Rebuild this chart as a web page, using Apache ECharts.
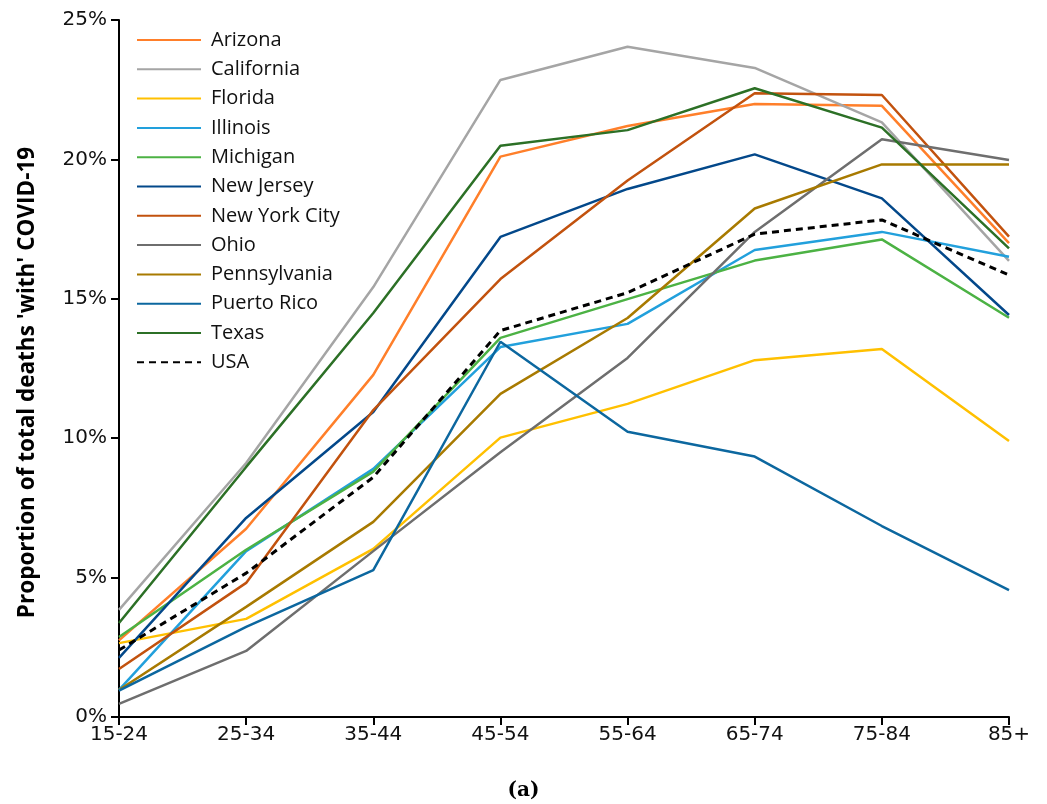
<!DOCTYPE html>
<html>
<head>
<meta charset="utf-8">
<script src="https://cdn.jsdelivr.net/npm/echarts@6/dist/echarts.min.js"></script>
<style>
  html, body { margin: 0; padding: 0; background: #fff; }
  #chart { width: 1047px; height: 804px; }
</style>
</head>
<body>
<div id="chart"></div>
<script>
// Age groups on the horizontal axis
const ageGroups = ['15-24', '25-34', '35-44', '45-54', '55-64', '65-74', '75-84', '85+'];

// Share of all deaths that were 'with' COVID-19, in percent, per age group
const arizona      = [2.75, 6.75, 12.27, 20.10, 21.20, 21.99, 21.92, 17.00];
const california   = [3.84, 9.11, 15.42, 22.85, 24.04, 23.28, 21.33, 16.36];
const florida      = [2.65, 3.52, 6.03, 10.02, 11.23, 12.80, 13.20, 9.90];
const illinois     = [0.97, 5.95, 8.90, 13.27, 14.10, 16.75, 17.40, 16.51];
const michigan     = [2.87, 6.00, 8.80, 13.60, 14.99, 16.37, 17.13, 14.32];
const newJersey    = [2.12, 7.14, 10.94, 17.22, 18.94, 20.18, 18.60, 14.42];
const newYorkCity  = [1.72, 4.81, 11.01, 15.71, 19.24, 22.37, 22.31, 17.23];
const ohio         = [0.47, 2.37, 5.95, 9.50, 12.88, 17.40, 20.72, 19.98];
const pennsylvania = [0.97, 3.95, 7.00, 11.59, 14.31, 18.24, 19.82, 19.82];
const puertoRico   = [0.95, 3.23, 5.27, 13.46, 10.23, 9.34, 6.85, 4.55];
const texas        = [3.37, 8.97, 14.49, 20.49, 21.05, 22.55, 21.14, 16.81];
const usa          = [2.40, 5.16, 8.60, 13.86, 15.22, 17.32, 17.83, 15.85];

// Y-axis range in percent
const yMin = 0, yMax = 25, yStep = 5;

const seriesDefs = [
  { name: 'Arizona',       data: arizona,      color: '#FF7F2A' },
  { name: 'California',    data: california,   color: '#A5A5A5' },
  { name: 'Florida',       data: florida,      color: '#FFC000' },
  { name: 'Illinois',      data: illinois,     color: '#22A0DC' },
  { name: 'Michigan',      data: michigan,     color: '#4CB244' },
  { name: 'New Jersey',    data: newJersey,    color: '#03488A' },
  { name: 'New York City', data: newYorkCity,  color: '#C2520E' },
  { name: 'Ohio',          data: ohio,         color: '#6E6E6E' },
  { name: 'Pennsylvania',  data: pennsylvania, color: '#A87A00' },
  { name: 'Puerto Rico',   data: puertoRico,   color: '#0C679F' },
  { name: 'Texas',         data: texas,        color: '#2C7026' },
  { name: 'USA',           data: usa,          color: '#000000', dashed: true }
];

const textFont = '"Open Sans", "Noto Sans", sans-serif';
const tickFont = '"DejaVu Sans", Verdana, sans-serif';

const chart = echarts.init(document.getElementById('chart'), null, { renderer: 'canvas' });

chart.setOption({
  animation: false,
  backgroundColor: '#ffffff',
  grid: { left: 119, right: 38, top: 20, bottom: 87, containLabel: false },
  legend: {
    orient: 'vertical',
    left: 136,
    top: 30,
    padding: 0,
    itemWidth: 64,
    itemHeight: 14,
    itemGap: 9.3,
    itemStyle: { opacity: 0 },
    textStyle: { fontFamily: textFont, fontSize: 20, lineHeight: 20, color: '#111', padding: [0, 0, 0, 5] },
    data: seriesDefs.map(s => s.name)
  },
  xAxis: {
    type: 'category',
    data: ageGroups,
    boundaryGap: false,
    axisLine: { lineStyle: { color: '#000', width: 2 } },
    axisTick: { show: true, alignWithLabel: true, length: 8, lineStyle: { color: '#000', width: 2 } },
    axisLabel: { fontFamily: tickFont, fontSize: 20, color: '#111', margin: 8 },
    splitLine: { show: false }
  },
  yAxis: {
    type: 'value',
    min: yMin,
    max: yMax,
    interval: yStep,
    name: "Proportion of total deaths 'with' COVID-19",
    nameLocation: 'middle',
    nameGap: 80,
    nameTextStyle: {
      fontFamily: textFont, fontSize: 22.5, fontWeight: 'bold', color: '#000',
      padding: [0, 28, 0, 0]
    },
    axisLine: { show: true, lineStyle: { color: '#000', width: 2 } },
    axisTick: { show: true, length: 8, lineStyle: { color: '#000', width: 2 } },
    axisLabel: { fontFamily: tickFont, fontSize: 20, color: '#111', margin: 12, formatter: '{value}%' },
    splitLine: { show: false }
  },
  graphic: [{
    type: 'text',
    left: 'center',
    top: 781,
    style: {
      text: '(a)',
      font: 'bold 20px "DejaVu Serif", "Liberation Serif", serif',
      fill: '#000'
    }
  }],
  series: seriesDefs.map(s => ({
    name: s.name,
    type: 'line',
    data: s.data,
    symbol: 'none',
    z: s.dashed ? 5 : 2,
    color: s.color,
    lineStyle: {
      color: s.color,
      width: s.dashed ? 3 : 2.5,
      type: s.dashed ? [7, 5] : 'solid'
    }
  }))
});
</script>
</body>
</html>
